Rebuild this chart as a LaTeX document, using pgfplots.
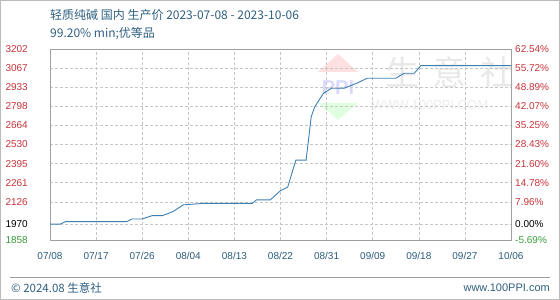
\documentclass[border=0pt]{standalone}
\usepackage{pgfplots}
\pgfplotsset{compat=1.18}
\usepackage{fontspec}
\setmainfont{Liberation Sans}
\newfontfamily\cjk{Noto Sans CJK SC}
\definecolor{ttl}{HTML}{2F5F80}
\definecolor{xlab}{HTML}{2B5C7C}
\definecolor{redlab}{HTML}{C8333A}
\definecolor{grnlab}{HTML}{3A9A3A}
\definecolor{line}{HTML}{3F80B2}
\definecolor{frame}{HTML}{A0A0A0}
\begin{document}
\begin{tikzpicture}
\path[use as bounding box] (0pt,0pt) rectangle (560pt,300pt);
\draw[frame!70,line width=1pt] (0.5pt,0.5pt) rectangle (559.5pt,299.5pt);
% watermark
\node[text=gray!18,font=\cjk\fontsize{34}{36}\selectfont,anchor=center] at (450pt,228pt) {生\hspace{14pt}意\hspace{14pt}社};
\node[text=gray!15,font=\fontsize{13}{14}\selectfont,anchor=center] at (430pt,195pt) {WWW.100PPI.COM};
\fill[red!12] (318pt,228pt) -- (338pt,246pt) -- (358pt,228pt) -- cycle;
\fill[green!12] (318pt,197pt) -- (338pt,180pt) -- (358pt,197pt) -- cycle;
\node[text=blue!15,font=\bfseries\fontsize{20}{20}\selectfont] at (338pt,212pt) {PPI};
% titles
\node[anchor=west,text=ttl,font=\cjk\fontsize{12}{14}\selectfont,inner sep=0pt] at (50pt,285pt) {轻质纯碱 国内 生产价 2023-07-08 - 2023-10-06};
\node[anchor=west,text=ttl,font=\cjk\fontsize{12}{14}\selectfont,inner sep=0pt] at (50pt,266pt) {99.20\% min;优等品};
% footer
\draw[frame,line width=0.8pt] (10pt,23pt) -- (550pt,23pt);
\node[anchor=west,text=ttl,font=\cjk\fontsize{11.5}{13}\selectfont,inner sep=0pt] at (11pt,12pt) {© 2024.08 生意社};
\node[anchor=east,text=ttl,font=\fontsize{11}{13}\selectfont,inner sep=0pt] at (550pt,12pt) {www.100PPI.com};
\begin{axis}[
  at={(50pt,60pt)}, anchor=south west, scale only axis,
  width=461pt, height=191pt,
  xmin=0, xmax=90, ymin=1858, ymax=3202,
  axis line style={frame,line width=0.8pt},
  major tick length=0pt,
  xtick={0,9,...,90},
  xticklabels={07/08,07/17,07/26,08/04,08/13,08/22,08/31,09/09,09/18,09/27,10/06},
  xticklabel style={text=xlab,font=\fontsize{10}{12}\selectfont,inner sep=0pt,yshift=-12pt},
  ytick={1858,1970,2126,2261,2395,2530,2664,2798,2933,3067,3202},
  yticklabels={\textcolor{grnlab}{1858},1970,\textcolor{redlab}{2126},\textcolor{redlab}{2261},\textcolor{redlab}{2395},\textcolor{redlab}{2530},\textcolor{redlab}{2664},\textcolor{redlab}{2798},\textcolor{redlab}{2933},\textcolor{redlab}{3067},\textcolor{redlab}{3202}},
  yticklabel style={font=\fontsize{10}{12}\selectfont,anchor=east,inner sep=0pt,xshift=-22pt},
  grid=major,
  grid style={densely dashed,gray!45,line width=0.5pt},
  clip=false,
]
\addplot[line,line width=0.9pt,mark=none] coordinates {
(0,1970) (2,1970) (3,1987) (15,1987) (16,2006) (18,2006) (20,2030) (22,2030)
(24,2058) (26,2105) (30,2116) (39.5,2116) (40.3,2140) (43,2140) (45,2205)
(46.4,2230) (48,2420) (50,2420) (51,2726) (51.7,2796) (53.4,2891) (55,2926)
(57.4,2926) (59.9,2961) (61.9,2996) (67.5,2996) (69.1,3031) (71.1,3031)
(72.4,3085) (90,3085)
};
\end{axis}
\begin{axis}[
  at={(50pt,60pt)}, anchor=south west, scale only axis,
  width=461pt, height=191pt,
  xmin=0, xmax=90, ymin=1858, ymax=3202,
  axis x line=none, axis y line*=right,
  axis line style={draw=none},
  major tick length=0pt,
  ytick={1858,1970,2126,2261,2395,2530,2664,2798,2933,3067,3202},
  yticklabels={\textcolor{grnlab}{-5.69\%},0.00\%,\textcolor{redlab}{7.96\%},\textcolor{redlab}{14.78\%},\textcolor{redlab}{21.60\%},\textcolor{redlab}{28.43\%},\textcolor{redlab}{35.25\%},\textcolor{redlab}{42.07\%},\textcolor{redlab}{48.89\%},\textcolor{redlab}{55.72\%},\textcolor{redlab}{62.54\%}},
  yticklabel style={font=\fontsize{10}{12}\selectfont,anchor=west,inner sep=0pt,xshift=4pt},
]
\end{axis}
\end{tikzpicture}
\end{document}
